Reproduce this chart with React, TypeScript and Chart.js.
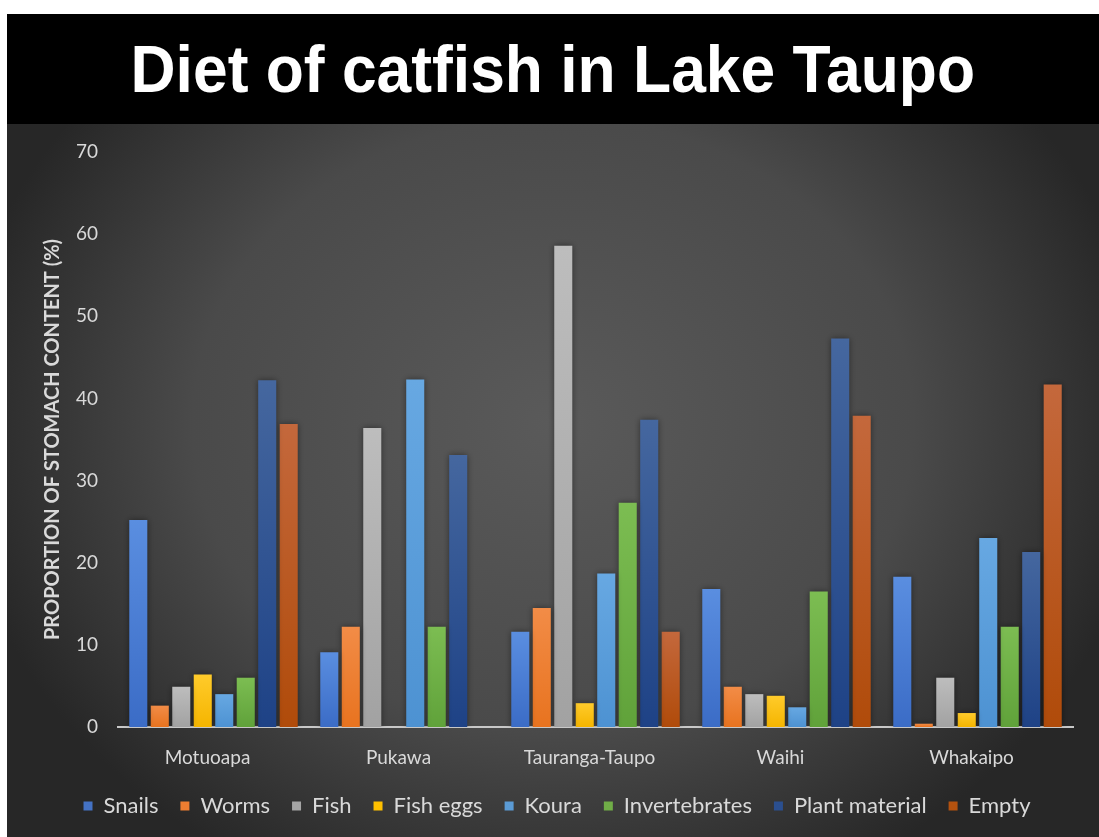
import React, { useEffect, useRef } from "react";
import { Chart, registerables } from "chart.js";

Chart.register(...registerables);

const categories = ["Motuoapa", "Pukawa", "Tauranga-Taupo", "Waihi", "Whakaipo"];
const seriesNames = ["Snails", "Worms", "Fish", "Fish eggs", "Koura", "Invertebrates", "Plant material", "Empty"];
const snails = [25.2, 9.1, 11.6, 16.8, 18.3];
const worms = [2.6, 12.2, 14.5, 4.9, 0.4];
const fish = [4.9, 36.4, 58.6, 4.0, 6.0];
const fishEggs = [6.4, 0, 2.9, 3.8, 1.7];
const koura = [4.0, 42.3, 18.7, 2.4, 23.0];
const invertebrates = [6.0, 12.2, 27.3, 16.5, 12.2];
const plantMaterial = [42.2, 33.1, 37.4, 47.3, 21.3];
const empty = [36.9, 0, 11.6, 37.9, 41.7];
const yTicks = [0, 10, 20, 30, 40, 50, 60, 70];

const seriesValues = [snails, worms, fish, fishEggs, koura, invertebrates, plantMaterial, empty];
const solidColors = ["#4472C4", "#ED7D31", "#A5A5A5", "#FFC000", "#5B9BD5", "#70AD47", "#2B4F8F", "#B4520F"];
const topColors = ["#5a8ee0", "#f28c47", "#bdbdbd", "#ffcb2b", "#67a8e2", "#7cbd52", "#45679f", "#c4683c"];
const bottomColors = ["#3b6cc6", "#e8731f", "#a2a2a2", "#f5b500", "#4d92d2", "#60a23a", "#1e4286", "#b04b0a"];

const bgPlugin = {
  id: "bgPlugin",
  afterLayout(chart: any) {
    const l = chart.legend;
    if (l) {
      l.left += 17;
      l.right += 17;
    }
  },
  beforeDraw(chart: any) {
    const { ctx, width, height } = chart;
    ctx.save();
    const cx = width / 2;
    const cy = height * 0.42;
    ctx.translate(cx, cy);
    ctx.scale(1, 0.85);
    const r = width * 0.55;
    const g = ctx.createRadialGradient(0, 0, 0, 0, 0, r);
    g.addColorStop(0, "#5a5a5a");
    g.addColorStop(0.6, "#4a4a4a");
    g.addColorStop(1, "#272727");
    ctx.fillStyle = g;
    ctx.fillRect(-cx, -cy / 0.85, width, height / 0.85 + 10);
    ctx.restore();
  },
  beforeDatasetsDraw(chart: any) {
    const ctx = chart.ctx;
    ctx.save();
    ctx.shadowColor = "rgba(0,0,0,0.45)";
    ctx.shadowBlur = 6;
    ctx.shadowOffsetX = 0;
    ctx.shadowOffsetY = 0;
  },
  afterDatasetsDraw(chart: any) {
    chart.ctx.restore();
  },
};

function makeFill(i: number) {
  return (c: any) => {
    const chart = c.chart;
    if (!chart.chartArea || c.type !== "data") return solidColors[i];
    const y = chart.scales.y;
    const top = y.getPixelForValue(c.raw);
    const bottom = y.getPixelForValue(0);
    if (bottom - top < 2) return bottomColors[i];
    const g = chart.ctx.createLinearGradient(0, top, 0, bottom);
    g.addColorStop(0, topColors[i]);
    g.addColorStop(1, bottomColors[i]);
    return g;
  };
}

export default function App() {
  const ref = useRef<HTMLCanvasElement>(null);
  useEffect(() => {
    if (!ref.current) return;
    const chart = new Chart(ref.current, {
      type: "bar",
      data: {
        labels: categories,
        datasets: seriesNames.map((name, i) => ({
          label: name,
          data: seriesValues[i],
          backgroundColor: makeFill(i),
          borderWidth: 0,
          categoryPercentage: 0.9,
          barPercentage: 0.84,
        })),
      },
      options: {
        animation: false,
        responsive: false,
        devicePixelRatio: 1,
        layout: { padding: { left: 0, right: 26, top: 28, bottom: 10 } },
        plugins: {
          title: { display: false },
          tooltip: { enabled: false },
          legend: {
            position: "bottom",
            labels: {
              boxWidth: 9,
              boxHeight: 9,
              padding: 22,
              color: "#d9d9d9",
              font: { family: "Lato", size: 22 },
              generateLabels: () =>
                seriesNames.map((name, i) => ({
                  text: name,
                  fillStyle: solidColors[i],
                  strokeStyle: solidColors[i],
                  lineWidth: 0,
                  datasetIndex: i,
                  fontColor: "#d9d9d9",
                  hidden: false,
                })),
            },
          },
        },
        scales: {
          x: {
            afterFit: (s: any) => {
              s.height = 46;
            },
            grid: { display: false, drawTicks: false },
            border: { display: true, color: "#c8c8c8", width: 2 },
            ticks: {
              color: "#d9d9d9",
              font: { family: "Lato", size: 19 },
              padding: 19,
              labelOffset: -6,
            },
          },
          y: {
            min: 0,
            max: 70,
            afterFit: (s: any) => {
              s.width = 111;
              s.paddingTop = 0;
              s.paddingBottom = 0;
            },
            afterBuildTicks: (s: any) => {
              s.ticks = yTicks.map((v) => ({ value: v }));
            },
            grid: { display: false, drawTicks: false },
            border: { display: false },
            ticks: {
              color: "#d9d9d9",
              font: { family: "Lato", size: 19 },
              padding: 20,
            },
            title: {
              display: true,
              text: "PROPORTION OF STOMACH CONTENT (%)",
              color: "#d9d9d9",
              font: { family: "Lato", size: 20, weight: "bold" },
              padding: { top: 34, bottom: 0 },
            },
          },
        },
      },
      plugins: [bgPlugin],
    });
    return () => chart.destroy();
  }, []);

  return (
    <div style={{ position: "absolute", left: 7, top: 14, width: 1092, height: 823, background: "#2a2a2a" }}>
      <div
        style={{
          height: 110,
          background: "#000",
          color: "#fff",
          fontFamily: "'Liberation Sans', Arial, sans-serif",
          fontWeight: "bold",
          fontSize: 66,
          lineHeight: "110px",
          textAlign: "center",
          overflow: "hidden",
        }}
      >
        <span style={{ display: "inline-block", transform: "scaleX(0.945)", transformOrigin: "center" }}>
          Diet of catfish in Lake Taupo
        </span>
      </div>
      <canvas ref={ref} width={1092} height={713} style={{ display: "block", width: 1092, height: 713 }} />
    </div>
  );
}
